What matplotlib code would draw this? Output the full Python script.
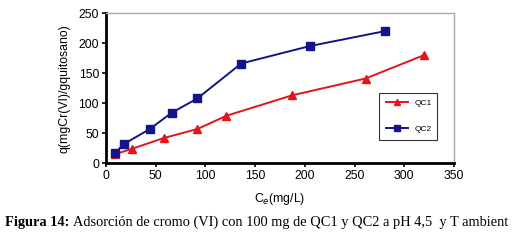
# adsorcion_cromo.py
# Adsorción de Cr(VI) con QC1 y QC2 — q vs Ce

import matplotlib.pyplot as plt

ce_qc1 = [9, 26, 58, 92, 121, 187, 261, 320]
q_qc1 = [15, 24, 42, 57, 79, 113, 141, 180]

ce_qc2 = [9, 18, 44, 66, 92, 136, 205, 281]
q_qc2 = [17, 32, 57, 84, 108, 166, 195, 220]

x_ticks = [0, 50, 100, 150, 200, 250, 300, 350]
y_ticks = [0, 50, 100, 150, 200, 250]

red = "#e3141c"
blue = "#13138a"

fig = plt.figure(figsize=(5.18, 2.47), dpi=100)
ax = fig.add_axes([106 / 518, 1 - 163.3 / 247, 348 / 518, 150.3 / 247])

ax.plot(ce_qc1, q_qc1, color=red, lw=1.4, marker="^", ms=5.5, label="QC1")
ax.plot(ce_qc2, q_qc2, color=blue, lw=1.4, marker="s", ms=5.5, label="QC2")

ax.set_xlim(0, 350)
ax.set_ylim(0, 250)
ax.set_xticks(x_ticks)
ax.set_yticks(y_ticks)

fam = ["Liberation Sans", "DejaVu Sans"]
for lab in ax.get_xticklabels() + ax.get_yticklabels():
    lab.set_family(fam)
    lab.set_fontsize(8.8)
ax.tick_params(direction="out", length=3, width=1.2, pad=2, color="black")

for s in ["left", "bottom"]:
    ax.spines[s].set_linewidth(2)
    ax.spines[s].set_color("black")
for s in ["top", "right"]:
    ax.spines[s].set_linewidth(1)
    ax.spines[s].set_color("#a8a8a8")

ax.set_ylabel("q(mgCr(VI)/gquitosano)", family=fam, fontsize=8.8, labelpad=6)
ax.set_xlabel("C$_e$(mg/L)", family=fam, fontsize=8.8, labelpad=6)

leg = ax.legend(loc="lower left", bbox_to_anchor=(0.773, 0.128, 0.19, 0.298),
                mode="expand", frameon=True, fancybox=False, labelspacing=2.2,
                handlelength=2.6, borderpad=0.8, prop={"family": fam, "size": 6},
                markerscale=0.8)
leg.get_frame().set_edgecolor("black")
leg.get_frame().set_linewidth(0.8)

serif = ["Liberation Serif", "DejaVu Serif"]
t1 = fig.text(5 / 518, 1 - 222 / 247, "Figura 14:", family=serif, fontsize=10.4,
              fontweight="bold", va="center", ha="left")
fig.canvas.draw()
bb = t1.get_window_extent()
fig.text((bb.x1 + 4) / 518, 1 - 222 / 247,
         "Adsorción de cromo (VI) con 100 mg de QC1 y QC2 a pH 4,5  y T ambient",
         family=serif, fontsize=10.4, va="center", ha="left")

fig.savefig("out.png", dpi=100)
